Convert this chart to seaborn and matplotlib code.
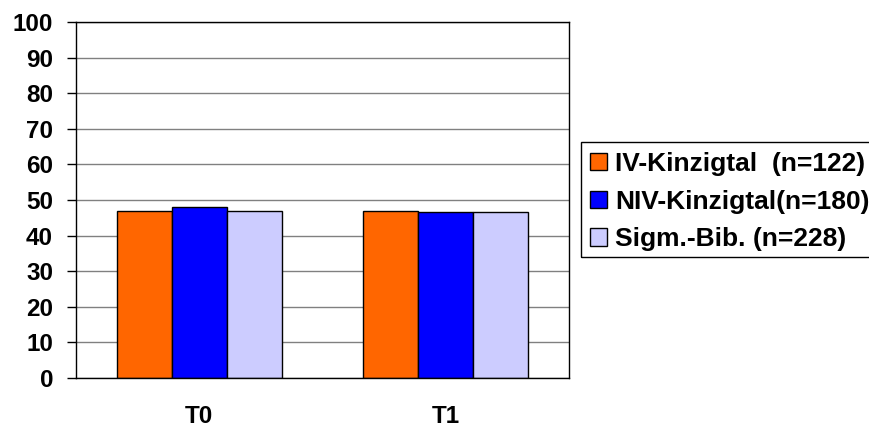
import matplotlib
matplotlib.use("Agg")
import matplotlib.pyplot as plt
import seaborn as sns
import pandas as pd
from matplotlib.patches import Rectangle

# Mean scores per group at the two measurement points
zeitpunkte = ["T0", "T1"]
gruppen = ["IV-Kinzigtal  (n=122)", "NIV-Kinzigtal(n=180)", "Sigm.-Bib. (n=228)"]
werte_iv = [47.0, 47.0]
werte_niv = [47.9, 46.5]
werte_sigm = [46.9, 46.5]
farben = ["#FF6600", "#0000FF", "#CCCCFF"]
y_ticks = [0, 10, 20, 30, 40, 50, 60, 70, 80, 90, 100]

df = pd.DataFrame({
    "Zeitpunkt": zeitpunkte * 3,
    "Gruppe": [gruppen[0]] * 2 + [gruppen[1]] * 2 + [gruppen[2]] * 2,
    "Wert": werte_iv + werte_niv + werte_sigm,
})

sns.set_style("white")
plt.rcParams["font.family"] = ["Liberation Sans", "DejaVu Sans"]
plt.rcParams["font.weight"] = "bold"
plt.rcParams["text.color"] = "black"
plt.rcParams["xtick.color"] = "black"
plt.rcParams["ytick.color"] = "black"
plt.rcParams["xtick.labelcolor"] = "black"
plt.rcParams["ytick.labelcolor"] = "black"

fig = plt.figure(figsize=(8.7, 4.3), dpi=100)
ax = fig.add_axes([76 / 870, 1 - 378 / 430, (569 - 76) / 870, (378 - 22) / 430])

sns.barplot(data=df, x="Zeitpunkt", y="Wert", hue="Gruppe", order=zeitpunkte,
            hue_order=gruppen, palette=farben, width=0.67, saturation=1,
            edgecolor="black", linewidth=1, ax=ax, legend=True)

ax.set_ylim(0, 100)
ax.set_xlim(-0.5, 1.5)
ax.set_yticks(y_ticks)
ax.set_yticklabels([str(t) for t in y_ticks], fontsize=17.5, fontweight="bold",
                   color="black")
ax.yaxis.grid(True, color="#808080", linewidth=1)
ax.set_axisbelow(True)
ax.set_xlabel("")
ax.set_ylabel("")

# Category labels sit centred; tick marks fall on the category boundaries
ax.set_xticks([0, 1])
ax.set_xticklabels(zeitpunkte, fontsize=17.5, fontweight="bold", color="black")
ax.tick_params(axis="x", length=0, pad=19.5)
ax.set_xticks([-0.5, 0.5, 1.5], minor=True)
ax.tick_params(axis="x", which="minor", length=6.5, width=1, color="black", direction="out")
ax.tick_params(axis="y", length=6.5, width=1, color="black", direction="out", pad=10, left=True)

for s in ax.spines.values():
    s.set_visible(True)
    s.set_color("black")
    s.set_linewidth(1)

handles, labels = ax.get_legend_handles_labels()
ax.legend_.remove()
leg = fig.legend(handles, labels, loc="upper left",
                 bbox_to_anchor=(590 / 870, 1 - 152 / 430),
                 prop={"size": 19, "weight": "bold"}, frameon=False,
                 borderpad=0, labelspacing=0.52,
                 handlelength=0.64, handleheight=0.64, handletextpad=0.3,
                 borderaxespad=0, labelcolor="black")

# Legend frame runs past the right edge of the figure
fig.add_artist(Rectangle((581 / 870, 1 - 256.7 / 430), (900 - 581) / 870, 115 / 430,
                         transform=fig.transFigure, fill=False,
                         edgecolor="black", linewidth=1))

fig.savefig("out.png", dpi=100)
